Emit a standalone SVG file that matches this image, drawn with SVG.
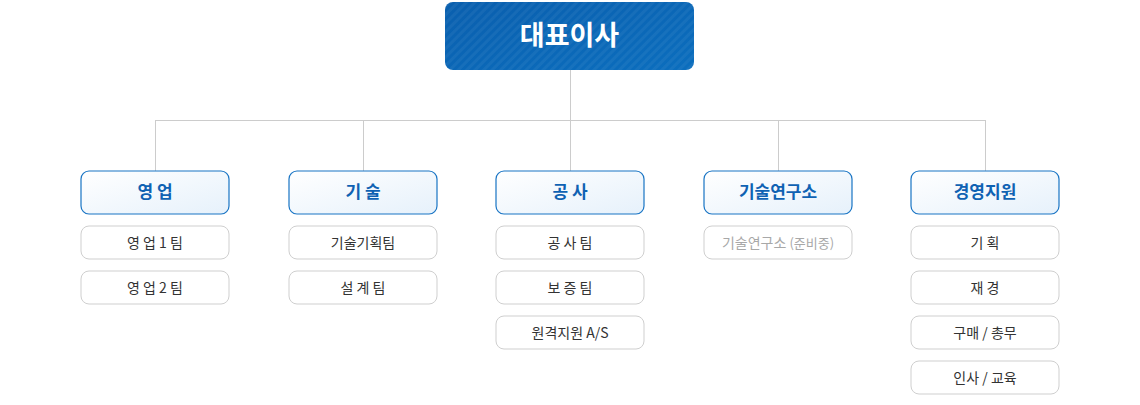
<svg xmlns="http://www.w3.org/2000/svg" width="1140" height="405" viewBox="0 0 1140 405">
<defs>
<linearGradient id="top" x1="0" y1="0" x2="1" y2="1"><stop offset="0" stop-color="#0a5fae"/><stop offset="1" stop-color="#0b6ebe"/></linearGradient>
<linearGradient id="dept" x1="0" y1="0" x2="1" y2="1"><stop offset="0" stop-color="#ffffff"/><stop offset="1" stop-color="#e6f1fb"/></linearGradient>
<pattern id="hatch" width="6" height="6" patternUnits="userSpaceOnUse" patternTransform="rotate(45)"><rect width="3" height="6" fill="#ffffff" opacity="0.05"/></pattern>
</defs>
<style>
.d rect{fill:url(#dept);stroke:#1874c4;stroke-width:1.2}
.d text{font-family:"Noto Sans CJK KR","Noto Sans",sans-serif;font-size:17px;font-weight:700;fill:#0f62b3;text-anchor:middle}
.s rect{fill:#fff;stroke:#cfcfcf;stroke-width:1}
.s text{font-family:"Noto Sans CJK KR","Noto Sans",sans-serif;font-size:14px;fill:#333;text-anchor:middle}
.g text{fill:#a8a8a8}
.c{stroke:#cccccc;stroke-width:1;fill:none}
</style>
<g id="connectors">
<path class="c" d="M570.5 70V120.5M155.5 120.5H985.5M155.5 120V171M363.5 120V171M570.5 120V171M778.5 120V171M985.5 120V171"/>
</g>
<g id="ceo">
<rect x="445" y="2" width="249" height="68" rx="8" fill="url(#top)"/>
<rect x="445" y="2" width="249" height="68" rx="8" fill="url(#hatch)"/>
<text x="569.5" y="45" font-family="Noto Sans CJK KR,Noto Sans,sans-serif" font-size="27" font-weight="700" fill="#fff" text-anchor="middle">대표이사</text>
</g>
<g id="dept-sales" class="d"><rect x="81" y="171" width="148" height="43" rx="8"/><text x="155" y="198">영 업</text></g>
<g id="dept-tech" class="d"><rect x="289" y="171" width="148" height="43" rx="8"/><text x="363" y="198">기 술</text></g>
<g id="dept-const" class="d"><rect x="496" y="171" width="148" height="43" rx="8"/><text x="570" y="198">공 사</text></g>
<g id="dept-lab" class="d"><rect x="704" y="171" width="148" height="43" rx="8"/><text x="778" y="198">기술연구소</text></g>
<g id="dept-mgmt" class="d"><rect x="911" y="171" width="148" height="43" rx="8"/><text x="985" y="198">경영지원</text></g>
<g id="s1" class="s"><rect x="81" y="226" width="148" height="33" rx="8"/><text x="155" y="247.5">영 업 1 팀</text></g>
<g id="s2" class="s"><rect x="81" y="271" width="148" height="33" rx="8"/><text x="155" y="292.5">영 업 2 팀</text></g>
<g id="t1" class="s"><rect x="289" y="226" width="148" height="33" rx="8"/><text x="363" y="247.5">기술기획팀</text></g>
<g id="t2" class="s"><rect x="289" y="271" width="148" height="33" rx="8"/><text x="363" y="292.5">설 계 팀</text></g>
<g id="c1" class="s"><rect x="496" y="226" width="148" height="33" rx="8"/><text x="570" y="247.5">공 사 팀</text></g>
<g id="c2" class="s"><rect x="496" y="271" width="148" height="33" rx="8"/><text x="570" y="292.5">보 증 팀</text></g>
<g id="c3" class="s"><rect x="496" y="316" width="148" height="33" rx="8"/><text x="570" y="337.5">원격지원 A/S</text></g>
<g id="l1" class="s g"><rect x="704" y="226" width="148" height="33" rx="8"/><text x="778" y="247.5">기술연구소 <tspan font-size="13">(준비중)</tspan></text></g>
<g id="m1" class="s"><rect x="911" y="226" width="148" height="33" rx="8"/><text x="985" y="247.5">기   획</text></g>
<g id="m2" class="s"><rect x="911" y="271" width="148" height="33" rx="8"/><text x="985" y="292.5">재   경</text></g>
<g id="m3" class="s"><rect x="911" y="316" width="148" height="33" rx="8"/><text x="985" y="337.5">구매 / 총무</text></g>
<g id="m4" class="s"><rect x="911" y="361" width="148" height="33" rx="8"/><text x="985" y="382.5">인사 / 교육</text></g>
</svg>
